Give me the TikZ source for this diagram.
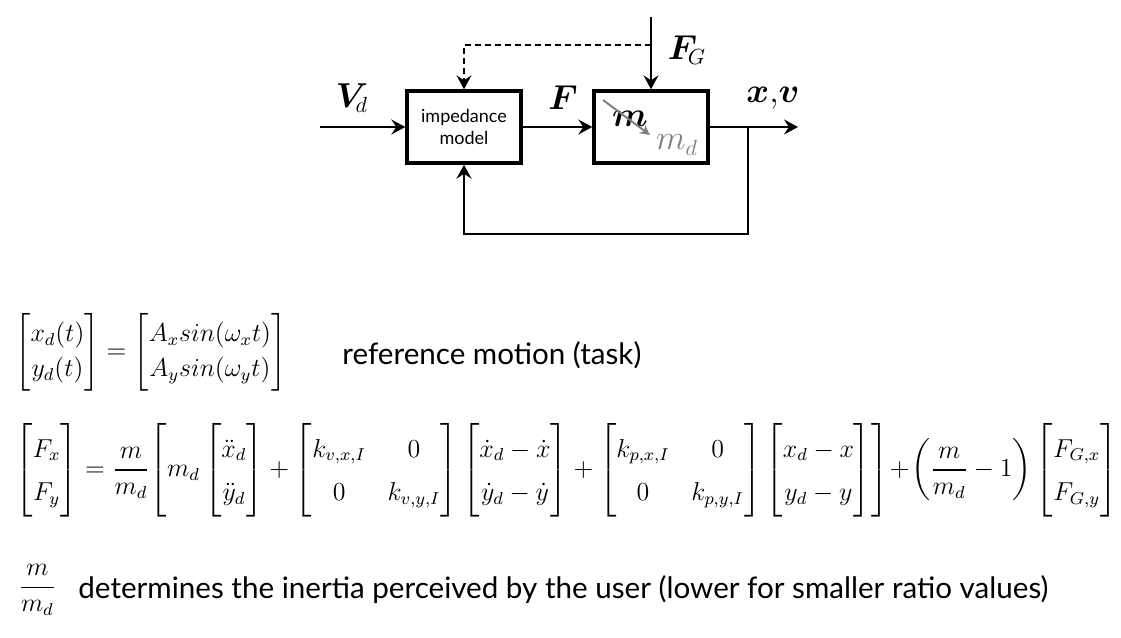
\documentclass[tikz,border=0pt]{standalone}
\usepackage{amsmath,bm}
\usepackage{fontspec}
\setsansfont{Lato}
\usetikzlibrary{arrows.meta}
\tikzset{>={Stealth[length=7pt,width=7.5pt,inset=2.5pt]}}

\begin{document}
\begin{tikzpicture}[x=0.5pt,y=-0.5pt,
  blk/.style={draw,line width=1.7pt,minimum width=57pt,minimum height=36pt,inner sep=0pt,align=center,font=\sffamily\fontsize{9}{11}\selectfont},
  sig/.style={->,line width=1pt},
  lbl/.style={font=\fontsize{16}{19}\selectfont},
  eqn/.style={anchor=west,inner sep=0pt,font=\fontsize{12}{16}\selectfont,scale=1.08,transform shape},
  txt/.style={anchor=west,inner sep=0pt,font=\sffamily\fontsize{14.8}{18}\selectfont}]
\useasboundingbox (0,0) rectangle (1121,638);
% block diagram
\node[blk] (imp) at (464,127) {impedance\\model};
\node[blk] (mass) at (651,127) {};
\coordinate (in) at (320,127);
\coordinate (out) at (798,127);
\coordinate (br) at (748,127);
\coordinate (low) at (748,234);
\coordinate (top) at (651,17);
\coordinate (dsh) at (651,45);
\draw[sig] (in) -- (imp);
\draw[sig] (imp) -- (mass);
\draw[sig] (mass) -- (out);
\draw[sig] (br) -- (low) -| (imp.south);
\draw[sig] (top) -- (mass.north);
\draw[sig,line width=0.8pt,dash pattern=on 3pt off 2pt] (dsh) -| (imp.north);
\node[lbl] (vd) at (352,98) {$\boldsymbol{V}_{\!d}$};
\node[lbl] (f) at (563,98) {$\boldsymbol{F}$};
\node[lbl] (xv) at (773,98) {$\boldsymbol{x}{,}\boldsymbol{v}$};
\node[lbl] (fg) at (687,50) {$\boldsymbol{F}_{\!G}$};
\node[font=\fontsize{19}{22}\selectfont] (m) at (630,119) {$\boldsymbol{m}$};
\node[lbl,text=gray] (md) at (677,145) {$m_d$};
\coordinate (ma) at (603,100);
\coordinate (mb) at (650,135);
\draw[->,gray,line width=1pt,>={Stealth[length=5pt,width=5pt]}] (ma) -- (mb);
% equations
\node[eqn] (eq1) at (15,352) {\renewcommand{\arraystretch}{1.0}$\begin{bmatrix}x_d(t)\\y_d(t)\end{bmatrix}=\begin{bmatrix}A_x sin(\omega_x t)\\A_y sin(\omega_y t)\end{bmatrix}$};
\node[txt] (task) at (342,355) {reference motion (task)};
\node[eqn] (eq2) at (15,470) {\renewcommand{\arraystretch}{1.25}$\begin{bmatrix}F_x\\F_y\end{bmatrix}=\dfrac{m}{m_d}\!\left[m_d\begin{bmatrix}\ddot{x}_d\\\ddot{y}_d\end{bmatrix}+\begin{bmatrix}k_{v,x,I}&0\\0&k_{v,y,I}\end{bmatrix}\begin{bmatrix}\dot{x}_d-\dot{x}\\\dot{y}_d-\dot{y}\end{bmatrix}+\begin{bmatrix}k_{p,x,I}&0\\0&k_{p,y,I}\end{bmatrix}\begin{bmatrix}x_d-x\\y_d-y\end{bmatrix}\right]\!+\!\left(\dfrac{m}{m_d}-1\right)\begin{bmatrix}F_{G,x}\\F_{G,y}\end{bmatrix}$};
\node[eqn] (ratio) at (18,590) {$\dfrac{m}{m_d}$};
\node[txt] (note) at (78,590) {determines the inertia perceived by the user (lower for smaller ratio values)};
\end{tikzpicture}
\end{document}
